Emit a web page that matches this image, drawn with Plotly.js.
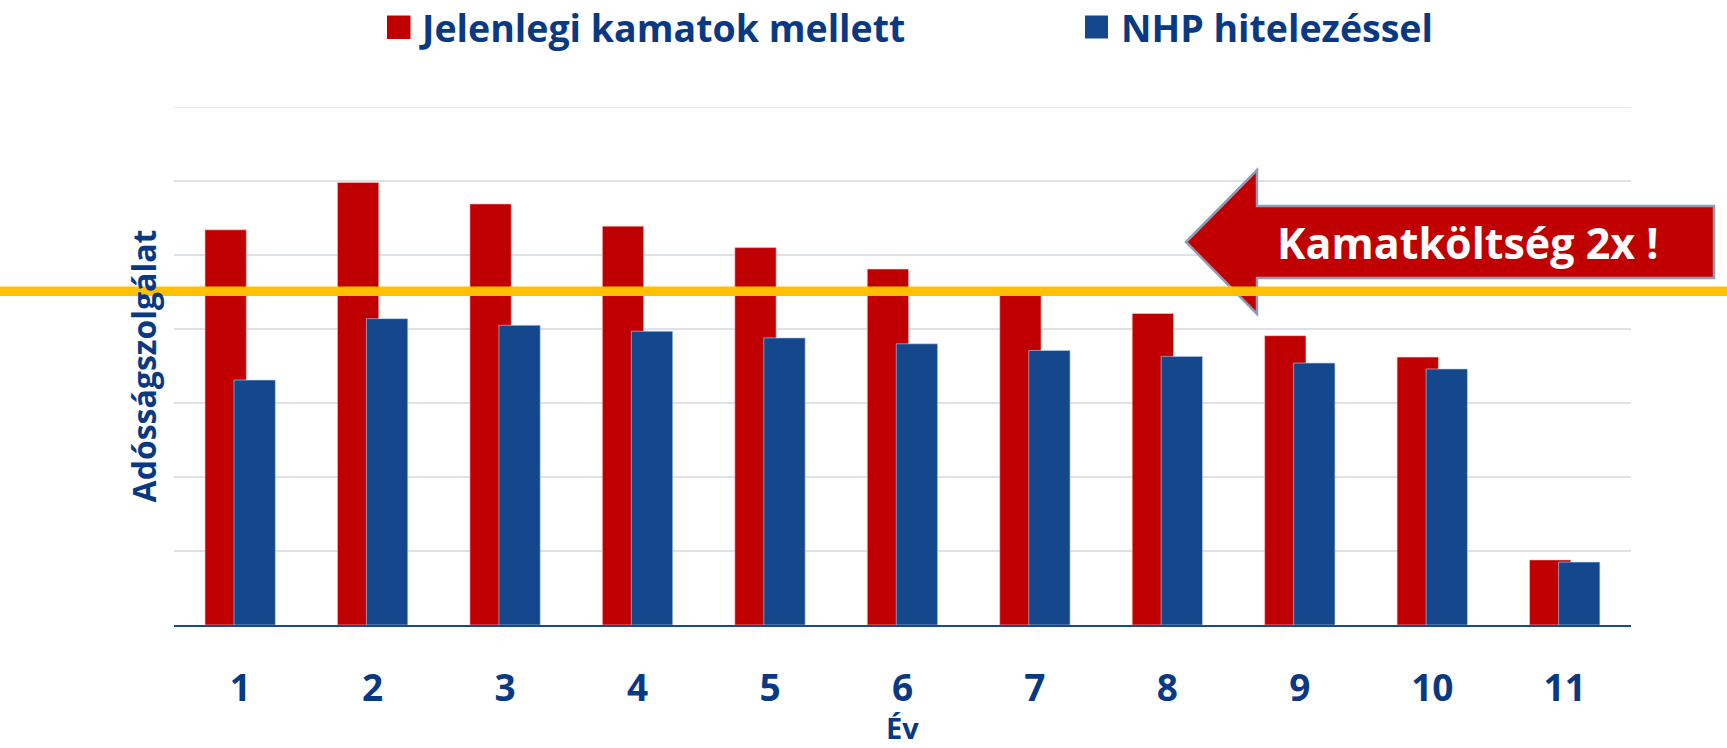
<!DOCTYPE html>
<html>
<head>
<meta charset="utf-8">
<script src="https://cdn.plot.ly/plotly-3.0.1.min.js"></script>
<style>
  html, body { margin: 0; padding: 0; background: #fff; }
  #chart { width: 1727px; height: 748px; }
</style>
</head>
<body>
<div id="chart"></div>
<script>
// ---- data ----
const years = ['1', '2', '3', '4', '5', '6', '7', '8', '9', '10', '11'];
const seriesNames = ['Jelenlegi kamatok mellett', 'NHP hitelezéssel'];
const currentRates = [5.34, 5.98, 5.69, 5.39, 5.10, 4.81, 4.52, 4.21, 3.91, 3.62, 0.88];
const nhpLending = [3.31, 4.14, 4.05, 3.97, 3.88, 3.80, 3.71, 3.63, 3.54, 3.46, 0.85];
const referenceLevel = 4.51;
const yMax = 7;
const calloutText = 'Kamatköltség 2x !';
const xTitle = 'Év';
const yTitle = 'Adósságszolgálat';

// ---- layout helpers ----
const W = 1727, H = 748, L = 174, R = 96, T = 107, B = 123;
const pw = W - L - R, ph = H - T - B;
const px = p => (p - L) / pw;          // pixel x -> paper x
const py = p => (H - B - p) / ph;      // pixel y -> paper y

const navy = '#0A3983';
const red = '#C00000';
const blue = '#15478C';
const gridColor = '#DDE2E9';
const font = 'Open Sans, Noto Sans, sans-serif';

const traces = [
  {
    type: 'bar', name: seriesNames[0], x: years, y: currentRates,
    width: 0.312, offset: -0.266,
    marker: { color: red, line: { color: 'rgba(255,200,200,0.6)', width: 1 } },
    hoverinfo: 'x+y'
  },
  {
    type: 'bar', name: seriesNames[1], x: years, y: nhpLending,
    width: 0.312, offset: -0.047,
    marker: { color: blue, line: { color: 'rgba(190,210,240,0.6)', width: 1 } },
    hoverinfo: 'x+y'
  }
];

// arrow callout (pixel geometry converted to paper)
const cy = 242, tipX = 1186, neckX = 1257, endX = 1714, headH = 72, bodyH = 36;
const arrowPath = [
  ['M', px(tipX), py(cy)],
  ['L', px(neckX), py(cy - headH)],
  ['L', px(neckX), py(cy - bodyH)],
  ['L', px(endX), py(cy - bodyH)],
  ['L', px(endX), py(cy + bodyH)],
  ['L', px(neckX), py(cy + bodyH)],
  ['L', px(neckX), py(cy + headH)],
  ['Z']
].map(s => s.length === 1 ? s[0] : s[0] + s[1].toFixed(5) + ',' + s[2].toFixed(5)).join(' ');

const shapes = [
  // top gridline (Plotly skips the grid line on the plot edge)
  {
    type: 'line', xref: 'paper', yref: 'y', x0: 0, x1: 1, y0: yMax, y1: yMax,
    line: { color: gridColor, width: 1.5 }, layer: 'below'
  },
  {
    type: 'path', xref: 'paper', yref: 'paper', path: arrowPath,
    fillcolor: red, line: { color: '#8C9DB5', width: 2.5 }, layer: 'above'
  },
  {
    type: 'line', xref: 'paper', yref: 'y',
    x0: px(0), x1: px(W), y0: referenceLevel, y1: referenceLevel,
    line: { color: '#FFC000', width: 9.5 }, layer: 'above'
  },
  // legend swatches
  { type: 'rect', xref: 'paper', yref: 'paper', x0: px(387), x1: px(410.5), y0: py(39), y1: py(15.5),
    fillcolor: red, line: { width: 0 } },
  { type: 'rect', xref: 'paper', yref: 'paper', x0: px(1085), x1: px(1108), y0: py(38.5), y1: py(15.5),
    fillcolor: blue, line: { width: 0 } }
];

const annotations = [
  { xref: 'paper', yref: 'paper', x: px(1468), y: py(cy), text: calloutText, showarrow: false,
    xanchor: 'center', yanchor: 'middle',
    font: { family: font, size: 43, color: '#ffffff', weight: 700 } },
  { xref: 'paper', yref: 'paper', x: px(417), y: py(27), text: seriesNames[0], showarrow: false,
    xanchor: 'left', yanchor: 'middle',
    font: { family: font, size: 37.5, color: navy, weight: 700 } },
  { xref: 'paper', yref: 'paper', x: px(1119), y: py(27), text: seriesNames[1], showarrow: false,
    xanchor: 'left', yanchor: 'middle',
    font: { family: font, size: 37.5, color: navy, weight: 700 } },
  // x-axis title (placed as annotation so it can sit close to the bottom edge)
  { xref: 'paper', yref: 'paper', x: 0.5, y: py(727), text: xTitle, showarrow: false,
    xanchor: 'center', yanchor: 'middle',
    font: { family: font, size: 29, color: navy, weight: 700 } }
];

const layout = {
  width: W, height: H,
  margin: { l: L, r: R, t: T, b: B, pad: 0 },
  paper_bgcolor: '#ffffff', plot_bgcolor: '#ffffff',
  barmode: 'overlay',
  showlegend: false,
  font: { family: font, color: navy },
  xaxis: {
    type: 'category',
    showgrid: false,
    showline: true, linecolor: '#1A4A8C', linewidth: 2,
    ticks: '', ticklabelstandoff: 30,
    tickfont: { family: font, size: 37, color: navy, weight: 700 },
    fixedrange: true
  },
  yaxis: {
    range: [0, yMax], dtick: 1, tick0: 0,
    showgrid: true, gridcolor: gridColor, gridwidth: 1.5,
    zeroline: false, showline: false,
    showticklabels: false, ticks: '',
    title: { text: yTitle, standoff: 6, font: { family: font, size: 32, color: navy, weight: 700 } },
    fixedrange: true
  },
  shapes: shapes,
  annotations: annotations
};

Plotly.newPlot('chart', traces, layout, { displayModeBar: false, staticPlot: true });
</script>
</body>
</html>
